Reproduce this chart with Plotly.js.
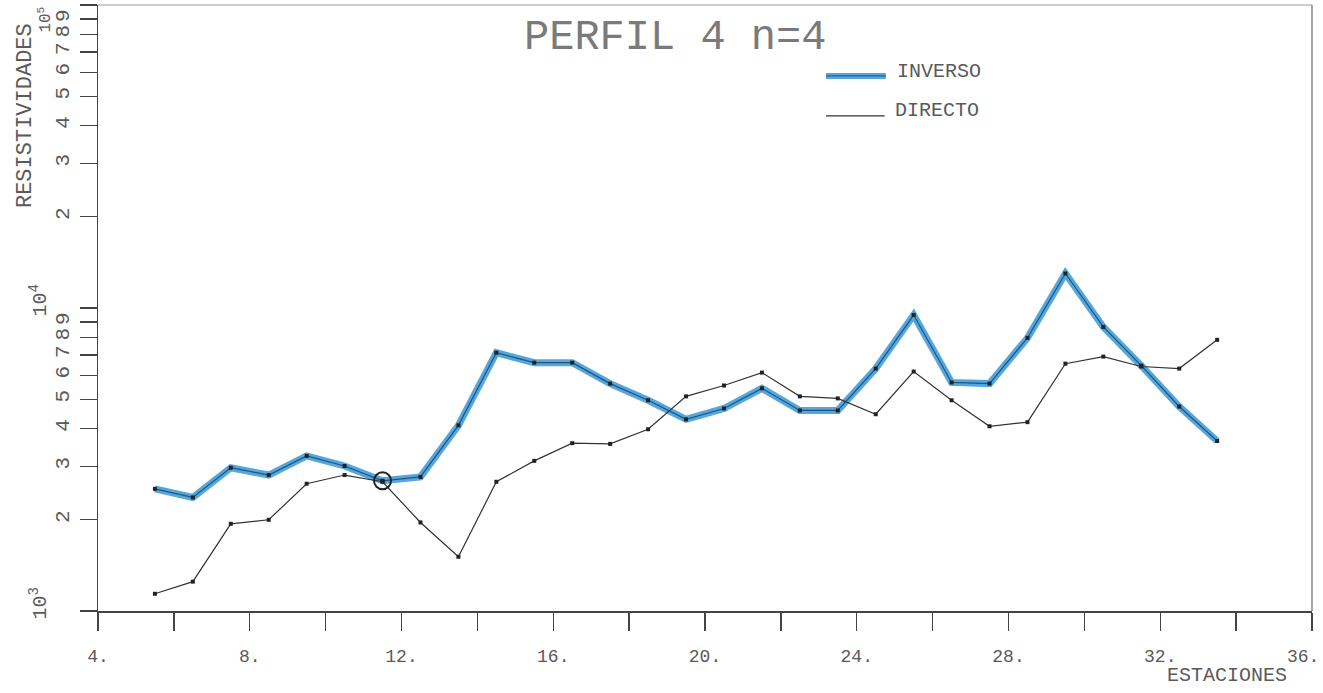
<!DOCTYPE html>
<html>
<head>
<meta charset="utf-8">
<script src="https://cdn.plot.ly/plotly-3.0.1.min.js"></script>
<style>
html,body{margin:0;padding:0;background:#fff;}
#chart{width:1323px;height:693px;}
</style>
</head>
<body>
<div id="chart"></div>
<script>
// ---- data ----
const stations = [5.5,6.5,7.5,8.5,9.5,10.5,11.5,12.5,13.5,14.5,15.5,16.5,17.5,18.5,19.5,20.5,21.5,22.5,23.5,24.5,25.5,26.5,27.5,28.5,29.5,30.5,31.5,32.5,33.5];
const inverso = [2530,2370,2970,2810,3250,3010,2690,2770,4100,7120,6600,6600,5630,4960,4290,4660,5430,4590,4590,6310,9480,5680,5630,7970,13000,8660,6450,4730,3640];
const directo = [1140,1250,1940,2000,2630,2810,2670,1960,1510,2670,3130,3580,3560,3980,5110,5550,6120,5110,5030,4460,6170,4960,4070,4200,6550,6910,6410,6310,7850];
const markedStation = [11.5];
const xTickVals = [4,6,8,10,12,14,16,18,20,22,24,26,28,30,32,34,36];
const xTickText = ["4.","","8.","","12.","","16.","","20.","","24.","","28.","","32.","",""];
const xLastLabel = "36.";
const yTickVals = [1000,2000,3000,4000,5000,6000,7000,8000,9000,10000,20000,30000,40000,50000,60000,70000,80000,90000,100000];
const yTickText = ["","2","3","4","5","6","7","8","9","","2","3","4","5","6","7","8","9",""];
const decadeVals = [1000,10000,100000];
const decadeText = ["10<sup>3</sup>","10<sup>4</sup>","10<sup>5</sup>"];
const titleText = "PERFIL 4 n=4";
const legendNames = ["INVERSO","DIRECTO"];
const yTitle = "RESISTIVIDADES";
const xTitle = "ESTACIONES";

const FONT = "Liberation Mono, DejaVu Sans Mono, monospace";
const TXT = "#5a5a5a";
const BLUE = "rgba(60,155,215,0.88)";
const INNER = "#24527e";

const markedY = markedStation.map(s => inverso[stations.indexOf(s)]);

const traces = [
  {x: stations, y: inverso, mode: "lines", line: {color: BLUE, width: 7}, showlegend: false, hoverinfo: "skip"},
  {x: stations, y: inverso, mode: "lines+markers", line: {color: INNER, width: 1.2},
   marker: {symbol: "square", size: 4, color: "#222"}, name: legendNames[0], showlegend: false},
  {x: stations, y: directo, mode: "lines+markers", line: {color: "#333", width: 1.2},
   marker: {symbol: "square", size: 4, color: "#222"}, name: legendNames[1], showlegend: false},
  {x: markedStation, y: markedY, mode: "markers",
   marker: {symbol: "circle-open", size: 17, color: "#222", line: {width: 2, color: "#222"}}, showlegend: false, hoverinfo: "skip"}
];

const decadeAnns = decadeVals.map((v, i) => {
  const last = i === decadeVals.length - 1;
  return {
    text: decadeText[i], xref: "paper", yref: "y", x: last ? -0.044 : -0.049, y: Math.log10(v),
    xanchor: "center", yanchor: last ? "top" : "middle", yshift: last ? 0 : 7,
    textangle: -90, showarrow: false, font: {family: FONT, size: last ? 16 : 20, color: TXT}
  };
});

const layout = {
  width: 1323, height: 693,
  margin: {l: 98, r: 11, t: 5, b: 82},
  paper_bgcolor: "#fff", plot_bgcolor: "#fff",
  showlegend: false,
  font: {family: FONT, color: TXT},
  xaxis: {
    range: [4, 36], showgrid: false, zeroline: false,
    showline: true, linecolor: "#444", linewidth: 1.5,
    ticks: "outside", ticklen: 18, tickwidth: 1.3, tickcolor: "#444",
    tickvals: xTickVals, ticktext: xTickText,
    tickfont: {family: FONT, size: 18, color: TXT},
    ticklabelstandoff: 10
  },
  yaxis: {
    type: "log", range: [3, 5], showgrid: false, zeroline: false,
    showline: true, linecolor: "#444", linewidth: 1.5,
    ticks: "outside", ticklen: 17, tickwidth: 1.3, tickcolor: "#444",
    tickvals: yTickVals, ticktext: yTickText, tickangle: -90,
    tickfont: {family: FONT, size: 21, color: TXT},
    ticklabelstandoff: 2
  },
  shapes: [
    {type: "line", xref: "paper", yref: "paper", x0: 1, x1: 1, y0: 0, y1: 1, line: {color: "#777", width: 1.3}},
    {type: "line", xref: "paper", yref: "paper", x0: 0, x1: 1, y0: 1, y1: 1, line: {color: "#999", width: 1.2}},
    {type: "line", xref: "paper", yref: "paper", x0: 0.5997, x1: 0.649, y0: 0.883, y1: 0.883, line: {color: BLUE, width: 6}},
    {type: "line", xref: "paper", yref: "paper", x0: 0.5997, x1: 0.649, y0: 0.883, y1: 0.883, line: {color: INNER, width: 1}},
    {type: "line", xref: "paper", yref: "paper", x0: 0.5997, x1: 0.648, y0: 0.817, y1: 0.817, line: {color: "#333", width: 1.2}}
  ],
  annotations: [
    {text: titleText, xref: "paper", yref: "paper", x: 0.475, y: 0.945, xanchor: "center", yanchor: "middle",
     showarrow: false, font: {family: FONT, size: 42, color: "#7a7a7a"}},
    {text: legendNames[0], xref: "paper", yref: "paper", x: 0.6565, y: 0.89, xanchor: "left", yanchor: "middle",
     showarrow: false, font: {family: FONT, size: 20, color: TXT}},
    {text: legendNames[1], xref: "paper", yref: "paper", x: 0.655, y: 0.826, xanchor: "left", yanchor: "middle",
     showarrow: false, font: {family: FONT, size: 20, color: TXT}},
    {text: yTitle, xref: "paper", yref: "paper", x: -0.0595, y: 0.818, xanchor: "center", yanchor: "middle",
     textangle: -90, showarrow: false, font: {family: FONT, size: 22, color: TXT}},
    {text: xTitle, xref: "paper", yref: "paper", x: 0.879, y: -0.106, xanchor: "left", yanchor: "middle",
     showarrow: false, font: {family: FONT, size: 20, color: TXT}},
    {text: xLastLabel, xref: "paper", yref: "paper", x: 1.0074, y: -0.0759, xanchor: "right", yanchor: "middle",
     showarrow: false, font: {family: FONT, size: 18, color: TXT}}
  ].concat(decadeAnns)
};

Plotly.newPlot("chart", traces, layout, {displayModeBar: false, staticPlot: true});
</script>
</body>
</html>
